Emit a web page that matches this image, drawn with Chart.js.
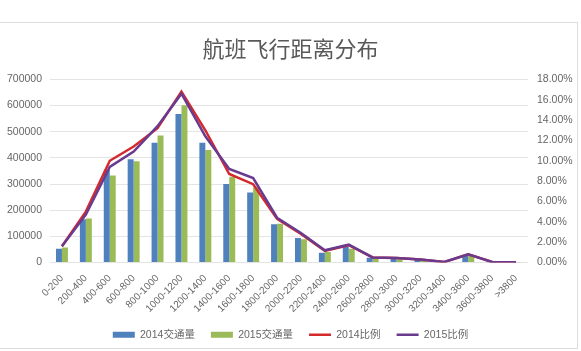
<!DOCTYPE html>
<html><head><meta charset="utf-8">
<script src="https://cdn.jsdelivr.net/npm/chart.js"></script>
<style>
html,body{margin:0;padding:0;background:#fff;overflow:hidden}
#wrap{position:relative;width:581px;height:351px}
#frame{position:absolute;left:-2px;top:22px;width:580px;height:327px;border:1px solid #dcdcdc;box-sizing:border-box;pointer-events:none}
canvas{position:absolute;left:0;top:0}
</style></head><body>
<div id="wrap"><canvas id="c" width="581" height="351"></canvas><div id="frame"></div></div>
<script>
const categories = ['0-200','200-400','400-600','600-800','800-1000','1000-1200','1200-1400','1400-1600','1600-1800','1800-2000','2000-2200','2200-2400','2400-2600','2600-2800','2800-3000','3000-3200','3200-3400','3400-3600','3600-3800','>3800'];
const traffic2014 = [53000,165000,355000,395000,458000,568000,458000,300000,268000,146000,94000,37000,60000,18000,15000,10000,3000,28000,1000,500];
const traffic2015 = [57000,168000,333000,387000,486000,601000,430000,328000,287000,148000,89000,40000,53000,15000,12000,8000,2000,25000,1000,500];
const ratio2014 = [1.6,5.0,10.0,11.4,13.2,16.8,13.0,8.7,7.7,4.3,2.8,1.15,1.7,0.5,0.45,0.3,0.05,0.8,0.05,0.03];
const ratio2015 = [1.6,4.7,9.4,10.9,13.4,16.6,12.4,9.2,8.3,4.4,2.9,1.2,1.75,0.5,0.45,0.3,0.05,0.8,0.05,0.03];
const leftMax = 700000, leftStep = 100000;
const rightMax = 18, rightStep = 2;

const FONT = '"Liberation Sans", "Noto Sans CJK SC", sans-serif';
const TXT = '#666666';

new Chart(document.getElementById('c'), {
  data: {
    labels: categories,
    datasets: [
      {type:'bar', label:'2014交通量', data:traffic2014, backgroundColor:'#4f81bd', yAxisID:'y', order:2, pointStyle:'rect', categoryPercentage:0.5, barPercentage:1.0},
      {type:'bar', label:'2015交通量', data:traffic2015, backgroundColor:'#9bbb59', yAxisID:'y', order:2, pointStyle:'rect', categoryPercentage:0.5, barPercentage:1.0},
      {type:'line', label:'2014比例', data:ratio2014, borderColor:'#d42a2e', backgroundColor:'#d42a2e', borderWidth:2.5, pointRadius:0, tension:0, yAxisID:'y1', order:1, pointStyle:'line'},
      {type:'line', label:'2015比例', data:ratio2015, borderColor:'#6a3a8f', backgroundColor:'#6a3a8f', borderWidth:2.5, pointRadius:0, tension:0, yAxisID:'y1', order:0, pointStyle:'line'}
    ]
  },
  options: {
    responsive:false, animation:false, devicePixelRatio:1,
    layout:{padding:{top:0,bottom:1,left:0,right:0}},
    plugins:{
      title:{display:true, text:'航班飞行距离分布', color:'#595959', font:{family:'"Noto Sans CJK SC", sans-serif', size:22, weight:'normal'}, padding:{top:35,bottom:18}},
      legend:{position:'bottom', labels:{usePointStyle:true, pointStyleWidth:22, boxHeight:6, padding:16, color:TXT, font:{family:FONT, size:10.5}, sort:(a,b)=>a.datasetIndex-b.datasetIndex}},
      tooltip:{enabled:false}
    },
    scales:{
      x:{grid:{display:false}, border:{display:false}, ticks:{color:TXT, font:{family:FONT,size:10}, maxRotation:45, minRotation:45, autoSkip:false, padding:2},
         afterFit:s=>{s.height=51;}},
      y:{position:'left', min:0, max:leftMax, ticks:{stepSize:leftStep, color:TXT, font:{family:FONT,size:10.5}, padding:8, callback:v=>String(v)},
         grid:{color:'#e4e4e4', drawTicks:false}, border:{display:false}, afterFit:s=>{s.width=50;}},
      y1:{position:'right', min:0, max:rightMax, ticks:{stepSize:rightStep, color:TXT, font:{family:FONT,size:10.5}, padding:9, callback:v=>v.toFixed(2)+'%'},
         grid:{display:false, drawTicks:false}, border:{display:false}, afterFit:s=>{s.width=53;}}
    }
  }
});
</script>
</body></html>
